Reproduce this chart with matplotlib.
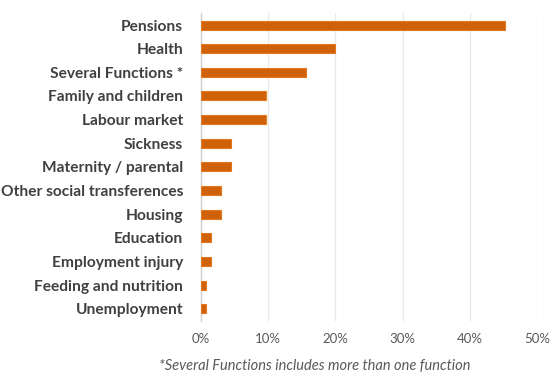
import matplotlib
matplotlib.use("Agg")
import matplotlib.pyplot as plt
from matplotlib.ticker import PercentFormatter

categories = ["Pensions", "Health", "Several Functions *", "Family and children",
              "Labour market", "Sickness", "Maternity / parental",
              "Other social transferences", "Housing", "Education",
              "Employment injury", "Feeding and nutrition", "Unemployment"]
values = [45.2, 20.0, 15.6, 9.7, 9.7, 4.5, 4.5, 3.0, 3.0, 1.5, 1.5, 0.75, 0.75]
xticks = [0, 10, 20, 30, 40, 50]
footnote = "*Several Functions includes more than one function"

plt.rcParams['font.family'] = ['Lato', 'DejaVu Sans']

fig = plt.figure(figsize=(5.57, 3.80), dpi=100)
ax = fig.add_axes([200.7/557, 1 - 320.5/380, (537.3-200.7)/557, (320.5-13.2)/380])

ypos = list(range(len(categories)))
ax.barh(ypos, values, height=0.38, color='#CF6209', edgecolor='#E3781F', linewidth=0.8, zorder=3)
ax.set_ylim(len(categories) - 0.5, -0.5)
ax.set_xlim(0, 50)
ax.set_yticks(ypos)
ax.set_yticklabels(categories, fontsize=11.2, fontweight='bold', color='#404040')
ax.set_xticks(xticks)
ax.xaxis.set_major_formatter(PercentFormatter(decimals=0))
ax.tick_params(axis='x', length=0, labelsize=9.5, labelcolor='#595959', pad=9)
ax.tick_params(axis='y', length=0, pad=12.7)
ax.grid(axis='x', color='#E8E8E8', linewidth=0.9, zorder=0)
for s in ['top', 'right', 'bottom']:
    ax.spines[s].set_visible(False)
ax.spines['left'].set_color('#D0D0D0')
ax.spines['left'].set_linewidth(1.0)

fig.text(315/557, 1 - 366/380, footnote, ha='center', va='center', fontsize=10.5,
         style='italic', color='#595959')

fig.savefig("out.png", dpi=100)
